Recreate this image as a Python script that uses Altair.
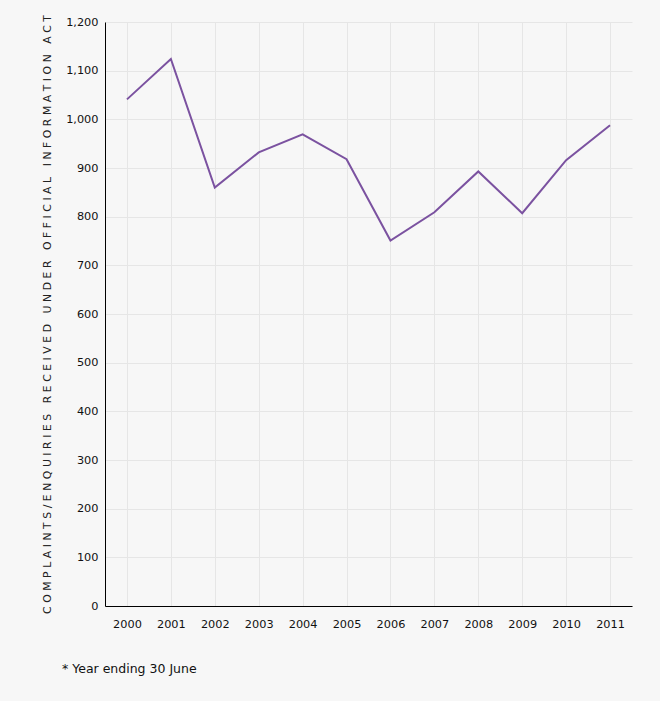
import altair as alt
import pandas as pd

years = ["2000", "2001", "2002", "2003", "2004", "2005", "2006", "2007", "2008", "2009", "2010", "2011"]
values = [1041, 1124, 860, 932, 969, 918, 751, 809, 893, 807, 916, 988]
y_ticks = [0, 100, 200, 300, 400, 500, 600, 700, 800, 900, 1000, 1100, 1200]
y_title = "COMPLAINTS/ENQUIRIES RECEIVED UNDER OFFICIAL INFORMATION ACT"
footnote = "* Year ending 30 June"

df = pd.DataFrame({"year": years, "value": values})

spaced_title = "\u2004".join(list(y_title))

FONT = "DejaVu Sans"

line = alt.Chart(df).mark_line(color="#7b52a0", strokeWidth=2).encode(
    x=alt.X("year:N", sort=years,
            scale=alt.Scale(paddingInner=0, paddingOuter=0, align=0.5),
            axis=alt.Axis(title=None, labelAngle=0, ticks=False, labelPadding=12,
                          domainColor="#000000", domainWidth=1, grid=True,
                          gridColor="#e6e6e6", labelColor="#111111",
                          labelFontSize=11.3, labelFont=FONT, bandPosition=0.5)),
    y=alt.Y("value:Q", scale=alt.Scale(domain=[0, 1200], nice=False),
            axis=alt.Axis(title=spaced_title, values=y_ticks, format=",d", ticks=False,
                          labelPadding=7, domainColor="#000000", grid=True,
                          gridColor="#e6e6e6", labelColor="#111111",
                          labelFontSize=11.3, labelFont=FONT,
                          titleFont=FONT, titleFontSize=10.8, titleFontWeight="normal",
                          titleColor="#222222", titleAngle=-90, titleX=-55, titleY=292,
                          titleAlign="center", titleBaseline="alphabetic")),
)

note = alt.Chart(pd.DataFrame({"t": [footnote]})).mark_text(
    align="left", baseline="middle", font=FONT, fontSize=12.5, color="#111111"
).encode(text="t:N", x=alt.value(-43), y=alt.value(63 + 584))

chart = alt.layer(line, note).properties(
    width=527, height=584,
    autosize=alt.AutoSizeParams(type="none"),
    padding={"left": 105, "top": 22, "right": 28, "bottom": 95},
    background="#f7f7f7",
).configure_view(stroke=None)

chart.save("out.html", embed_options={"renderer": "svg", "actions": False})
